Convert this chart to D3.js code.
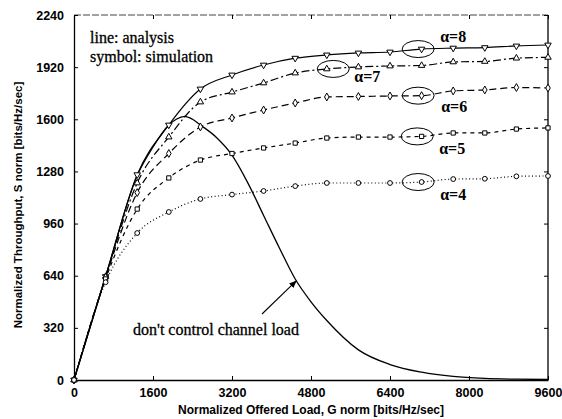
<!DOCTYPE html>
<html>
<head>
<meta charset="utf-8">
<script src="https://cdn.jsdelivr.net/npm/d3@7/dist/d3.min.js"></script>
<style>
  body { margin: 0; background: #fff; }
  svg { display: block; }
  .tick text { font-family: "Liberation Sans", Arial, sans-serif; font-weight: bold; font-size: 12.5px; fill: #000; }
  .tick line, .domain { stroke: #000; }
</style>
</head>
<body>
<svg id="chart" width="562" height="419"></svg>
<script>
// offered load grid used by the analysis / simulation points
var loads = [0, 640, 1280, 1920, 2560, 3200, 3840, 4480, 5120, 5760, 6400, 7040, 7680, 8320, 8960, 9600];

// throughput for each alpha
var alpha8 = [0, 635, 1260, 1565, 1786, 1872, 1933, 1975, 1995, 2007, 2013, 2031, 2037, 2040, 2050, 2056];
var alpha7 = [0, 635, 1209, 1491, 1706, 1767, 1823, 1884, 1909, 1921, 1927, 1930, 1952, 1955, 1975, 1980];
var alpha6 = [0, 630, 1150, 1390, 1553, 1608, 1657, 1700, 1737, 1740, 1743, 1745, 1774, 1780, 1795, 1792];
var alpha5 = [0, 620, 1049, 1240, 1350, 1390, 1424, 1454, 1485, 1491, 1491, 1495, 1516, 1516, 1540, 1547];
var alpha4 = [0, 600, 902, 1031, 1111, 1138, 1160, 1190, 1209, 1209, 1209, 1215, 1233, 1235, 1250, 1252];

// no channel load control
var freeLoads = [0, 640, 1280, 1600, 1920, 2080, 2240, 2400, 2560, 2880, 3200, 3520, 3840, 4160, 4480, 4800, 5120, 5760, 6400, 7040, 7680, 8320, 8960, 9600];
var freeThru  = [0, 635, 1255, 1430, 1565, 1602, 1618, 1600, 1565, 1490, 1380, 1210, 1010, 810, 620, 480, 365, 185, 95, 48, 22, 10, 5, 3];

var xTicks = [0, 1600, 3200, 4800, 6400, 8000, 9600];
var yTicks = [0, 320, 640, 960, 1280, 1600, 1920, 2240];

var alphaNames = ["\u03b1=8", "\u03b1=7", "\u03b1=6", "\u03b1=5", "\u03b1=4"];
// circled simulation point of each alpha (load, and index of the point on the grid)
var circledLoad = [6970, 5250, 6970, 6950, 6970];
var circledIdx = [11, 8, 11, 11, 11];

var svg = d3.select("#chart");

var x = d3.scaleLinear().domain([0, 9600]).range([74, 548]);
var y = d3.scaleLinear().domain([0, 2240]).range([380, 15]);

var series = [
  { vals: alpha8, dash: null, sym: "down", lab: [22, -7] },
  { vals: alpha7, dash: "8,3,2,3", sym: "up", lab: [21, 13] },
  { vals: alpha6, dash: "7,4", sym: "diamond", lab: [23, 16] },
  { vals: alpha5, dash: "4,4", sym: "square", lab: [22, 18] },
  { vals: alpha4, dash: "1,2.5", sym: "circle", lab: [22, 18] }
];

// frame
svg.append("line")
  .attr("x1", x(0)).attr("x2", x(9600)).attr("y1", y(2240)).attr("y2", y(2240))
  .attr("stroke", "#444").attr("stroke-width", 1).attr("stroke-dasharray", "7,2");
svg.append("line")
  .attr("x1", x(9600)).attr("x2", x(9600)).attr("y1", y(2240)).attr("y2", y(0))
  .attr("stroke", "#000").attr("stroke-width", 1.3);

// axes with inward ticks
svg.append("g")
  .attr("transform", "translate(0," + y(0) + ")")
  .call(d3.axisBottom(x).tickValues(xTicks).tickSizeInner(-4).tickSizeOuter(0).tickPadding(8).tickFormat(d3.format("d")))
  .select(".domain").attr("stroke-width", 1.3);

svg.append("g")
  .attr("transform", "translate(" + x(0) + ",0)")
  .call(d3.axisLeft(y).tickValues(yTicks).tickSizeInner(-4).tickSizeOuter(0).tickPadding(10).tickFormat(d3.format("d")))
  .select(".domain").attr("stroke-width", 1.3);

svg.append("g")
  .attr("transform", "translate(0," + y(2240) + ")")
  .call(d3.axisTop(x).tickValues(xTicks).tickSizeInner(-4).tickSizeOuter(0).tickFormat(""))
  .select(".domain").remove();

svg.append("g")
  .attr("transform", "translate(" + x(9600) + ",0)")
  .call(d3.axisRight(y).tickValues(yTicks).tickSizeInner(-4).tickSizeOuter(0).tickFormat(""))
  .select(".domain").remove();

// axis titles
svg.append("text")
  .attr("x", 311).attr("y", 414)
  .attr("text-anchor", "middle")
  .style("font-family", "'Liberation Sans', Arial, sans-serif")
  .style("font-weight", "bold").style("font-size", "12px")
  .text("Normalized Offered Load, G norm [bits/Hz/sec]");

svg.append("text")
  .attr("transform", "translate(22,205)rotate(-90)")
  .attr("text-anchor", "middle")
  .style("font-family", "'Liberation Sans', Arial, sans-serif")
  .style("font-weight", "bold").style("font-size", "11.5px")
  .text("Normalized Throughput, S norm [bits/Hz/sec]");

// curves
var line = d3.line()
  .x(function(d) { return x(d[0]); })
  .y(function(d) { return y(d[1]); })
  .curve(d3.curveMonotoneX);

svg.append("path")
  .datum(d3.zip(freeLoads, freeThru))
  .attr("d", line)
  .attr("fill", "none").attr("stroke", "#000").attr("stroke-width", 1.3);

var symbolTypes = {
  down: d3.symbolTriangle, up: d3.symbolTriangle, diamond: d3.symbolDiamond,
  square: d3.symbolSquare, circle: d3.symbolCircle
};

series.forEach(function(s) {
  var pts = d3.zip(loads, s.vals);
  svg.append("path")
    .datum(pts)
    .attr("d", line)
    .attr("fill", "none").attr("stroke", "#000").attr("stroke-width", 1.2)
    .attr("stroke-dasharray", s.dash);

  svg.selectAll(null)
    .data(pts)
    .enter().append("path")
    .attr("d", d3.symbol().type(symbolTypes[s.sym]).size(18))
    .attr("transform", function(d) {
      return "translate(" + x(d[0]) + "," + y(d[1]) + ")" + (s.sym == "down" ? "rotate(180)" : "");
    })
    .attr("fill", "#fff").attr("stroke", "#000").attr("stroke-width", 1);
});

// circled points and alpha labels
var serif = "'Liberation Serif', 'Times New Roman', serif";
series.forEach(function(s, i) {
  var cx = x(circledLoad[i]), cy = y(s.vals[circledIdx[i]]);
  svg.append("ellipse")
    .attr("cx", cx).attr("cy", cy)
    .attr("rx", 16).attr("ry", 8.5)
    .attr("fill", "none").attr("stroke", "#000").attr("stroke-width", 1);
  svg.append("text")
    .attr("x", cx + s.lab[0])
    .attr("y", cy + s.lab[1])
    .style("font-family", serif)
    .style("font-weight", "bold").style("font-size", "16px")
    .text(alphaNames[i]);
});

// legend text
svg.append("text").attr("x", 90).attr("y", 43)
  .style("font-family", serif).style("font-size", "16px")
  .attr("stroke", "#000").attr("stroke-width", 0.3)
  .text("line: analysis");
svg.append("text").attr("x", 90).attr("y", 62)
  .style("font-family", serif).style("font-size", "16px")
  .attr("stroke", "#000").attr("stroke-width", 0.3)
  .text("symbol: simulation");

svg.append("text").attr("x", 133).attr("y", 335)
  .style("font-family", serif).style("font-size", "16px")
  .attr("stroke", "#000").attr("stroke-width", 0.3)
  .text("don't control channel load");

// arrow to the uncontrolled curve
svg.append("defs").append("marker")
  .attr("id", "arrow").attr("viewBox", "0 0 10 10")
  .attr("refX", 9).attr("refY", 5)
  .attr("markerWidth", 7).attr("markerHeight", 7)
  .attr("orient", "auto")
  .append("path").attr("d", "M0,1L10,5L0,9Z").attr("fill", "#000");

svg.append("line")
  .attr("x1", 262).attr("y1", 314)
  .attr("x2", x(4480) + 1).attr("y2", y(620) + 2)
  .attr("stroke", "#000").attr("stroke-width", 1.1)
  .attr("marker-end", "url(#arrow)");
</script>
</body>
</html>
